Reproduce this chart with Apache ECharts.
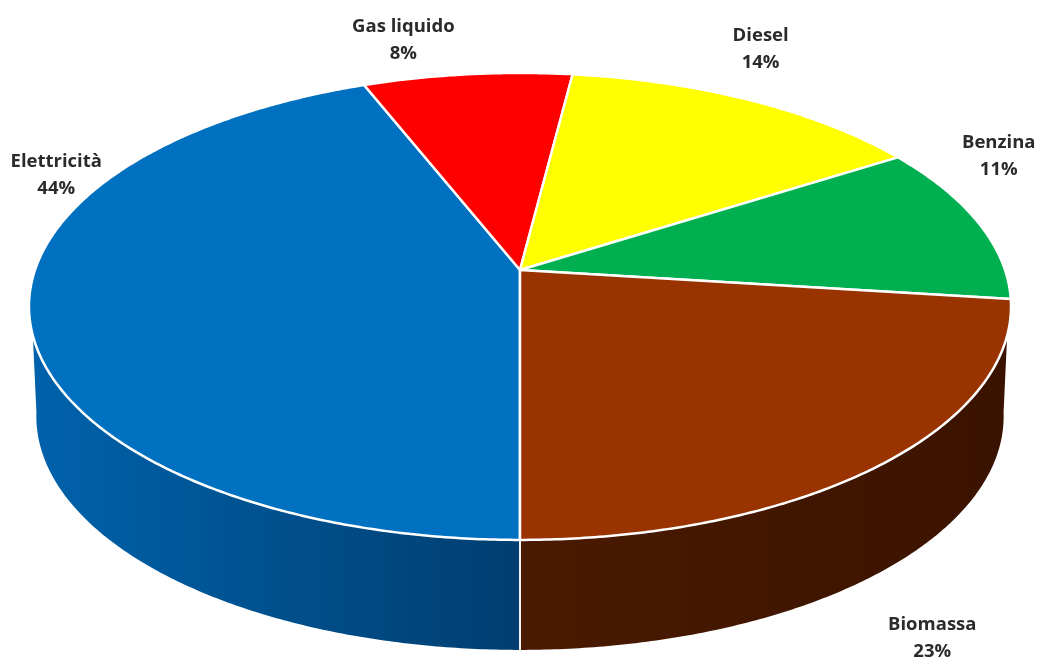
<!DOCTYPE html>
<html>
<head>
<meta charset="utf-8">
<style>html,body{margin:0;padding:0;background:#fff}#c{width:1042px;height:663px}</style>
<script src="https://cdn.jsdelivr.net/npm/echarts@6/dist/echarts.min.js"></script>
</head>
<body>
<div id="c"></div>
<script>
const categories = ['Elettricità', 'Gas liquido', 'Diesel', 'Benzina', 'Biomassa'];
const shares = [44, 8, 14, 11, 23];
const topColors = ['#0070c0', '#ff0000', '#ffff00', '#00b050', '#993300'];
const wallColors = [['#0062ab', '#003e70'], null, null, null, ['#4a1a00', '#3a1300']];
const labelOffsets = [[27, -139], [-64, -34], [11, -51], [21, -66], [49, 175]];

// Projected disc geometry (perspective view of a circle)
const apexX = 520, apexY = 270, radX = 485, radY = 227.8, persp = -0.156;
const depth = 110, baseScale = 0.985;
const wallTopLimit = 106, wallBaseLimit = 98;

const total = shares.reduce((a, b) => a + b, 0);
// Angles run clockwise from the top of the disc; the first slice starts at the bottom.
const startAngles = [];
shares.reduce((acc, v, i) => { startAngles[i] = 180 + acc / total * 360; return acc + v; }, 0);

function rim(deg) {
  const t = deg * Math.PI / 180, u = Math.sin(t), v = -Math.cos(t), w = 1 + persp * v;
  return [apexX + radX * u / w, apexY + radY * v / w];
}
function base(deg) {
  const p = rim(deg);
  return [apexX + baseScale * (p[0] - apexX), p[1] + depth];
}
function arc(fn, a, b) {
  const n = Math.max(2, Math.ceil(Math.abs(b - a) * 2)), pts = [];
  for (let i = 0; i <= n; i++) pts.push(fn(a + (b - a) * i / n));
  return pts;
}

function wallItem(params) {
  const i = params.dataIndex;
  if (!wallColors[i]) return { type: 'group', children: [] };
  const a = startAngles[i], b = a + shares[i] / total * 360;
  const s = ((a % 360) + 360) % 360, e = s + (b - a);
  // visible wall: clamp to the front of the disc (wallTopLimit .. 360-wallTopLimit)
  const ta = Math.max(s, wallTopLimit), tb = Math.min(e, 360 - wallTopLimit);
  const ba = Math.max(s, wallBaseLimit), bb = Math.min(e, 360 - wallBaseLimit);
  const pts = arc(rim, ta, tb).concat(arc(base, bb, ba));
  const seam = s === 180 ? s : (e === 180 ? e : null);
  const children = [{
    type: 'polygon',
    shape: { points: pts },
    style: {
      fill: new echarts.graphic.LinearGradient(0, 0, 1, 0, [
        { offset: 0, color: wallColors[i][0] }, { offset: 1, color: wallColors[i][1] }
      ])
    }
  }];
  if (seam !== null) {
    const p = rim(seam), q = base(seam);
    children.push({ type: 'line', z2: 5, shape: { x1: p[0], y1: p[1], x2: q[0], y2: q[1] },
      style: { stroke: '#f4f4f4', lineWidth: 2 } });
  }
  return { type: 'group', children };
}

function topItem(params) {
  const i = params.dataIndex;
  const a = startAngles[i], b = a + shares[i] / total * 360;
  const pts = [[apexX, apexY]].concat(arc(rim, a, b));
  return {
    type: 'polygon',
    shape: { points: pts },
    style: { fill: topColors[i], stroke: '#ffffff', lineWidth: 2.5, lineJoin: 'round' }
  };
}

function labelItem(params) {
  const i = params.dataIndex;
  const mid = startAngles[i] + shares[i] / total * 180;
  const p = rim(mid);
  return {
    type: 'text',
    style: {
      x: p[0] + labelOffsets[i][0], y: p[1] + labelOffsets[i][1],
      text: categories[i] + '\n' + shares[i] + '%',
      align: 'center', verticalAlign: 'middle',
      fill: '#2b2b2b', lineHeight: 27,
      font: 'bold 18.5px "Open Sans", sans-serif'
    }
  };
}

const rows = shares.map((v, i) => ({ name: categories[i], value: v }));
const chart = echarts.init(document.getElementById('c'), null, { renderer: 'canvas' });
chart.setOption({
  animation: false,
  backgroundColor: '#ffffff',
  tooltip: { show: false },
  series: [
    { type: 'custom', coordinateSystem: 'none', silent: true, z: 1, data: rows, renderItem: wallItem },
    { type: 'custom', coordinateSystem: 'none', silent: true, z: 2, data: rows, renderItem: topItem },
    { type: 'custom', coordinateSystem: 'none', silent: true, z: 3, data: rows, renderItem: labelItem }
  ]
});
</script>
</body>
</html>
